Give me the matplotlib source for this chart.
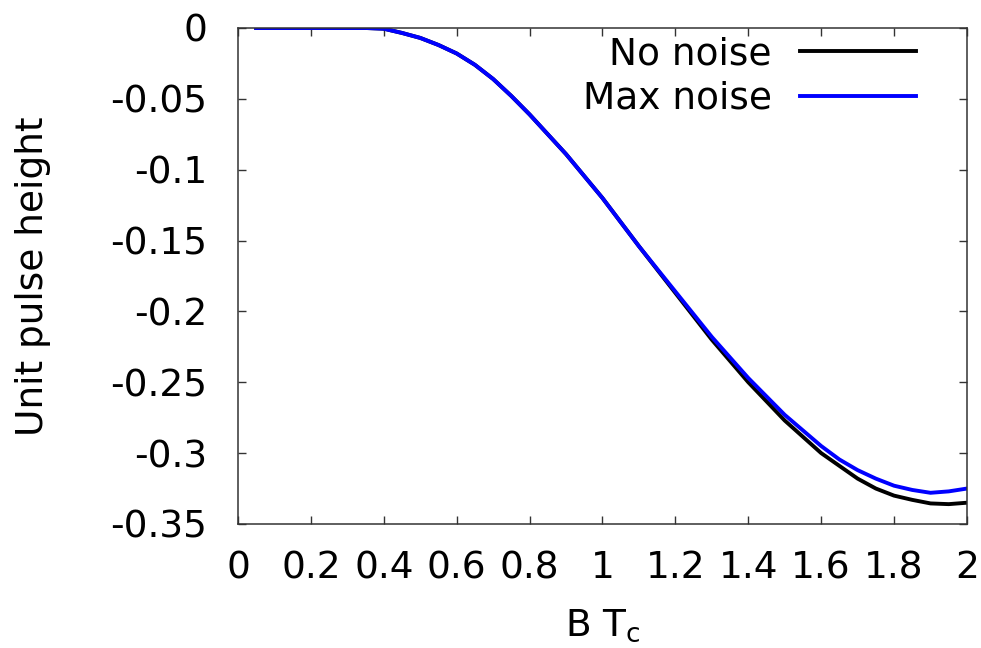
import matplotlib.pyplot as plt

# Odczytane wartości z wykresu
bt = [0.05, 0.1, 0.2, 0.3, 0.35, 0.4, 0.45, 0.5, 0.55, 0.6, 0.65, 0.7, 0.75, 0.8,
      0.85, 0.9, 1.0, 1.1, 1.2, 1.3, 1.4, 1.5, 1.6, 1.65, 1.7, 1.75, 1.8, 1.85,
      1.9, 1.95, 2.0]
no_noise = [0, 0, 0, 0, 0, -0.0005, -0.0035, -0.007, -0.012, -0.018, -0.026,
            -0.036, -0.048, -0.061, -0.075, -0.089, -0.120, -0.154, -0.187,
            -0.220, -0.250, -0.277, -0.300, -0.309, -0.318, -0.325, -0.330,
            -0.333, -0.3355, -0.336, -0.335]
max_noise = [0, 0, 0, 0, 0, -0.0005, -0.0035, -0.007, -0.012, -0.018, -0.026,
             -0.036, -0.048, -0.061, -0.075, -0.089, -0.120, -0.154, -0.186,
             -0.218, -0.247, -0.273, -0.295, -0.3045, -0.312, -0.318, -0.323,
             -0.326, -0.328, -0.327, -0.325]
x_ticks = [0, 0.2, 0.4, 0.6, 0.8, 1, 1.2, 1.4, 1.6, 1.8, 2]
x_labels = ['0', '0.2', '0.4', '0.6', '0.8', '1', '1.2', '1.4', '1.6', '1.8', '2']
y_ticks = [0, -0.05, -0.1, -0.15, -0.2, -0.25, -0.3, -0.35]
y_labels = ['0', '-0.05', '-0.1', '-0.15', '-0.2', '-0.25', '-0.3', '-0.35']

plt.rcParams['font.family'] = 'DejaVu Sans'
fig = plt.figure(figsize=(9.81, 6.48), dpi=100)
ax = fig.add_axes([0.2426, 0.1914, 0.7431, 0.7654])

ax.plot(bt, no_noise, color='black', lw=2.8, label='No noise')
ax.plot(bt, max_noise, color='#0000ff', lw=2.8, label='Max noise')

ax.set_xlim(0, 2)
ax.set_ylim(-0.35, 0)
ax.set_xticks(x_ticks)
ax.set_xticklabels(x_labels)
ax.set_yticks(y_ticks)
ax.set_yticklabels(y_labels)
ax.tick_params(direction='in', length=6, width=1, top=True, right=True,
               labelsize=27, colors='#333333', labelcolor='black')
ax.tick_params(axis='x', pad=19)
ax.tick_params(axis='y', pad=22)
for s in ax.spines.values():
    s.set_linewidth(1.1)
    s.set_color('#333333')

ax.set_xlabel('B T$_\\mathregular{c}$', fontsize=27, labelpad=15)
ax.set_ylabel('Unit pulse height', fontsize=27, labelpad=43)

ax.legend(loc='upper right', bbox_to_anchor=(0.961, 1.028), frameon=False,
          markerfirst=False, fontsize=27, handlelength=3.1, handletextpad=0.75,
          labelspacing=0.22, borderaxespad=0.2)

fig.savefig('out.png', dpi=100)
